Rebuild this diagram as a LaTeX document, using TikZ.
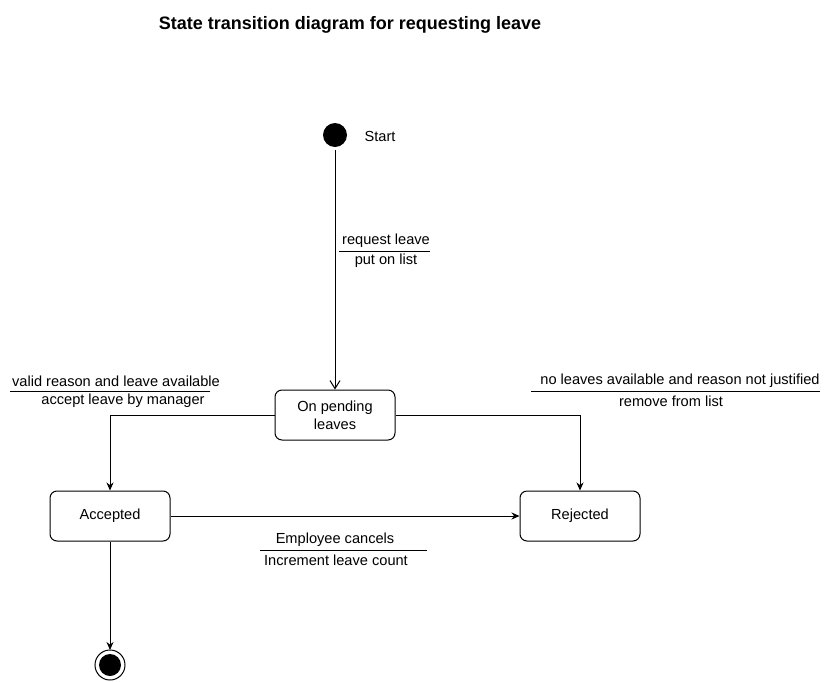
\documentclass[tikz,border=0pt]{standalone}
\usepackage{fontspec}
\setmainfont{Liberation Sans}
\usetikzlibrary{arrows.meta}
\tikzset{>=Stealth,
  state/.style={draw,rounded corners=7pt,minimum width=120pt,minimum height=50pt,align=center,line width=1pt},
  lbl/.style={font=\fontsize{14.6}{18}\selectfont,inner sep=0pt},
  edge/.style={line width=1pt,-{Stealth[length=8pt,width=7pt]}}}

\begin{document}
\begin{tikzpicture}[x=1pt,y=-1pt]
\useasboundingbox (0,0) rectangle (831,681);
\node[font=\fontsize{18}{21}\selectfont\bfseries] (title) at (350,25) {State transition diagram for requesting leave};
\fill (335,135) circle (12) coordinate (start);
\node[lbl] (starttext) at (380,136) {Start};
\node[state,lbl,draw] (pending) at (335,415) {On pending\\leaves};
\node[state,lbl,draw] (accepted) at (110,516) {Accepted};
\node[state,lbl,draw] (rejected) at (580,516) {Rejected};
\draw[line width=1pt] (110,665) circle (15);
\fill (110,665) circle (11) coordinate (final);
\coordinate (finaltop) at (110,650);
% transitions
\draw[line width=1pt,-{Straight Barb[length=8pt,width=10pt]}] (start)++(0,15) -- (pending.north);
\draw[edge] (pending.west) -| (accepted.north);
\draw[edge] (pending.east) -| (rejected.north);
\draw[edge] (accepted.east) -- (rejected.west);
\draw[edge] (accepted.south) -- (finaltop);
% guards and actions
\node[lbl] (req) at (386,241) {request leave};
\node[lbl] (put) at (386,261) {put on list};
\draw (339,251) -- (430,251);
\node[lbl] (valid) at (116,381) {valid reason and leave available};
\node[lbl] (accept) at (123,401) {accept leave by manager};
\draw (10,391) -- (210,391);
\node[lbl] (noleave) at (680,381) {no leaves available and reason not justified};
\node[lbl] (remove) at (671,401) {remove from list};
\draw (531,391) -- (820,391);
\node[lbl] (cancel) at (335,540) {Employee cancels};
\node[lbl] (incr) at (336,560) {Increment leave count};
\draw (260,550) -- (427,550);
\end{tikzpicture}
\end{document}
